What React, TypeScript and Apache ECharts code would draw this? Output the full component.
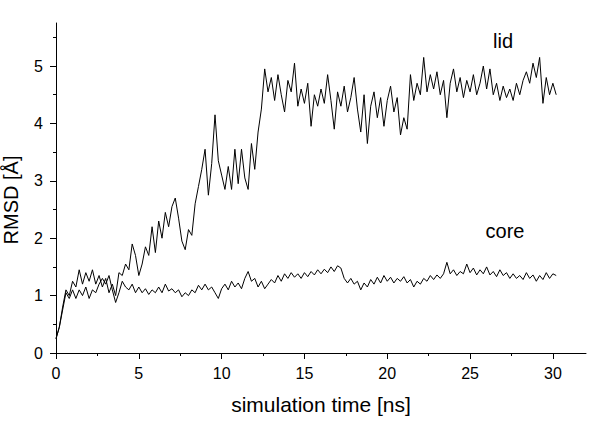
import React, { useEffect, useRef } from "react";
import * as echarts from "echarts";

// sampling interval of the traces (ns)
const SAMPLE_NS = 0.2;

// RMSD of the lid (Å), one value every 0.2 ns from 0 to 30.2 ns
const lidRmsd = [
  0.25, 0.45, 0.8, 1.1, 1.0, 1.25, 1.15, 1.45, 1.2, 1.4,
  1.25, 1.45, 1.2, 1.35, 1.15, 1.3, 1.05, 1.2, 1.0, 1.4,
  1.35, 1.55, 1.45, 1.9, 1.7, 1.35, 1.55, 1.85, 1.7, 2.2,
  1.75, 2.3, 2.0, 2.45, 2.2, 2.55, 2.7, 2.35, 1.95, 1.8,
  2.15, 2.05, 2.6, 2.9, 3.2, 3.55, 2.75, 3.3, 4.15, 3.35,
  3.1, 2.85, 3.25, 2.85, 3.55, 2.95, 3.55, 3.05, 2.85, 3.65,
  3.2, 3.85, 4.25, 4.95, 4.55, 4.8, 4.4, 4.85, 4.5, 4.2,
  4.75, 4.55, 5.05, 4.3, 4.6, 4.35, 4.7, 3.95, 4.5, 4.3,
  4.6, 4.35, 4.85, 4.4, 3.9, 4.55, 4.3, 4.65, 4.2, 4.45,
  4.8, 4.25, 3.85, 4.5, 3.65, 4.3, 4.55, 4.1, 4.45, 3.95,
  4.4, 4.65, 4.2, 4.45, 3.8, 4.1, 3.9, 4.85, 4.4, 4.7,
  4.5, 5.15, 4.55, 4.85, 4.6, 4.9, 4.5, 4.75, 4.1, 4.7,
  4.95, 4.55, 4.8, 4.45, 4.75, 4.55, 4.85, 4.5, 4.7, 5.0,
  4.6, 4.95, 4.5, 4.7, 4.4, 4.65, 4.45, 4.6, 4.4, 4.7,
  4.5, 4.75, 4.9, 4.7, 5.05, 4.8, 5.15, 4.35, 4.8, 4.5,
  4.7, 4.5,
];

// RMSD of the core (Å), same sampling
const coreRmsd = [
  0.25, 0.45, 0.75, 1.05, 0.95, 1.1, 0.95, 1.1, 1.0, 1.15,
  0.95, 1.1, 1.05, 1.2, 1.3, 1.2, 1.35, 1.1, 0.88, 1.05,
  1.25, 1.15, 1.1, 1.2, 1.05, 1.15, 1.05, 1.12, 1.02, 1.1,
  1.05, 1.15, 1.05, 1.2, 1.08, 1.12, 1.05, 1.1, 0.98, 1.05,
  1.0, 1.1, 1.05, 1.18, 1.1, 1.2, 1.1, 1.15, 1.05, 0.95,
  1.12, 1.2, 1.1, 1.25, 1.15, 1.22, 1.12, 1.3, 1.42, 1.25,
  1.3, 1.15, 1.25, 1.12, 1.2, 1.28, 1.22, 1.35, 1.25, 1.38,
  1.3, 1.4, 1.32, 1.38, 1.3, 1.4, 1.33, 1.42, 1.36, 1.45,
  1.38, 1.46, 1.4, 1.5, 1.42, 1.52, 1.48, 1.3, 1.22, 1.3,
  1.2, 1.25, 1.1, 1.22, 1.15, 1.28, 1.2, 1.32, 1.22, 1.35,
  1.25, 1.32, 1.22, 1.3, 1.25, 1.33, 1.22, 1.28, 1.15, 1.25,
  1.2, 1.3, 1.25, 1.35, 1.28, 1.36, 1.3, 1.38, 1.58, 1.38,
  1.45, 1.35, 1.42, 1.38, 1.55, 1.4, 1.48, 1.36, 1.45, 1.38,
  1.5, 1.36, 1.42, 1.33, 1.45, 1.35, 1.4, 1.3, 1.38, 1.3,
  1.35, 1.28, 1.4, 1.3, 1.36, 1.25, 1.35, 1.28, 1.4, 1.3,
  1.38, 1.35,
];

const xMajorTicks = [0, 5, 10, 15, 20, 25, 30];
const xMinorTicks = [2.5, 7.5, 12.5, 17.5, 22.5, 27.5];
const yMajorTicks = [0, 1, 2, 3, 4, 5];
const yMinorTicks = [0.5, 1.5, 2.5, 3.5, 4.5, 5.5];

const seriesNames = ["lid", "core"];
const xTitle = "simulation time [ns]";
const yTitle = "RMSD [Å]";

const FONT = "'Liberation Sans', Arial, Helvetica, sans-serif";

export default function App() {
  const ref = useRef<HTMLDivElement>(null);

  useEffect(() => {
    if (!ref.current) return;
    const chart = echarts.init(ref.current, undefined, { renderer: "svg" });
    const toPairs = (arr: number[]) =>
      arr.map((v, i) => [Math.round(i * SAMPLE_NS * 10) / 10, v]);

    const grid = { left: 56, right: 14, top: 23, bottom: 74 };
    const axisCommon = {
      splitLine: { show: false },
      minorTick: { show: false },
    };

    chart.setOption({
      animation: false,
      backgroundColor: "#ffffff",
      grid,
      xAxis: [
        {
          type: "value",
          min: 0,
          max: 32,
          ...axisCommon,
          axisLine: { show: true, lineStyle: { color: "#000", width: 1 } },
          axisTick: {
            show: true,
            inside: false,
            length: 6,
            customValues: xMajorTicks,
            lineStyle: { color: "#000", width: 1 },
          },
          axisLabel: {
            show: true,
            customValues: xMajorTicks,
            margin: 12,
            color: "#000",
            fontSize: 16,
            fontFamily: FONT,
          },
        },
        {
          type: "value",
          min: 0,
          max: 32,
          position: "bottom",
          ...axisCommon,
          axisLine: { show: false },
          axisTick: {
            show: true,
            inside: false,
            length: 3,
            customValues: xMinorTicks,
            lineStyle: { color: "#000", width: 1 },
          },
          axisLabel: { show: false },
        },
      ],
      yAxis: [
        {
          type: "value",
          min: 0,
          max: 5.75,
          ...axisCommon,
          axisLine: { show: true, lineStyle: { color: "#000", width: 1 } },
          axisTick: {
            show: true,
            inside: false,
            length: 6,
            customValues: yMajorTicks,
            lineStyle: { color: "#000", width: 1 },
          },
          axisLabel: {
            show: true,
            customValues: yMajorTicks,
            margin: 13,
            color: "#000",
            fontSize: 16,
            fontFamily: FONT,
          },
        },
        {
          type: "value",
          min: 0,
          max: 5.75,
          position: "left",
          ...axisCommon,
          axisLine: { show: false },
          axisTick: {
            show: true,
            inside: false,
            length: 3,
            customValues: yMinorTicks,
            lineStyle: { color: "#000", width: 1 },
          },
          axisLabel: { show: false },
        },
      ],
      series: [
        {
          name: seriesNames[0],
          type: "line",
          data: toPairs(lidRmsd),
          showSymbol: false,
          symbol: "none",
          lineStyle: { color: "#000", width: 1 },
          z: 3,
        },
        {
          name: seriesNames[1],
          type: "line",
          data: toPairs(coreRmsd),
          showSymbol: false,
          symbol: "none",
          lineStyle: { color: "#000", width: 1 },
          z: 3,
        },
      ],
      graphic: [
        {
          type: "text",
          x: 503,
          y: 41,
          style: {
            text: seriesNames[0],
            fill: "#000",
            font: `20px ${FONT}`,
            align: "center",
            verticalAlign: "middle",
          },
        },
        {
          type: "text",
          x: 505,
          y: 231,
          style: {
            text: seriesNames[1],
            fill: "#000",
            font: `20px ${FONT}`,
            align: "center",
            verticalAlign: "middle",
          },
        },
        {
          type: "text",
          x: 321,
          y: 404,
          style: {
            text: xTitle,
            fill: "#000",
            font: `21px ${FONT}`,
            align: "center",
            verticalAlign: "middle",
          },
        },
        {
          type: "text",
          x: 11,
          y: 200,
          rotation: Math.PI / 2,
          style: {
            text: yTitle,
            fill: "#000",
            font: `20px ${FONT}`,
            align: "center",
            verticalAlign: "middle",
          },
        },
      ],
    });

    return () => chart.dispose();
  }, []);

  return (
    <div
      ref={ref}
      style={{ position: "fixed", left: 0, top: 0, width: 600, height: 427 }}
    />
  );
}
